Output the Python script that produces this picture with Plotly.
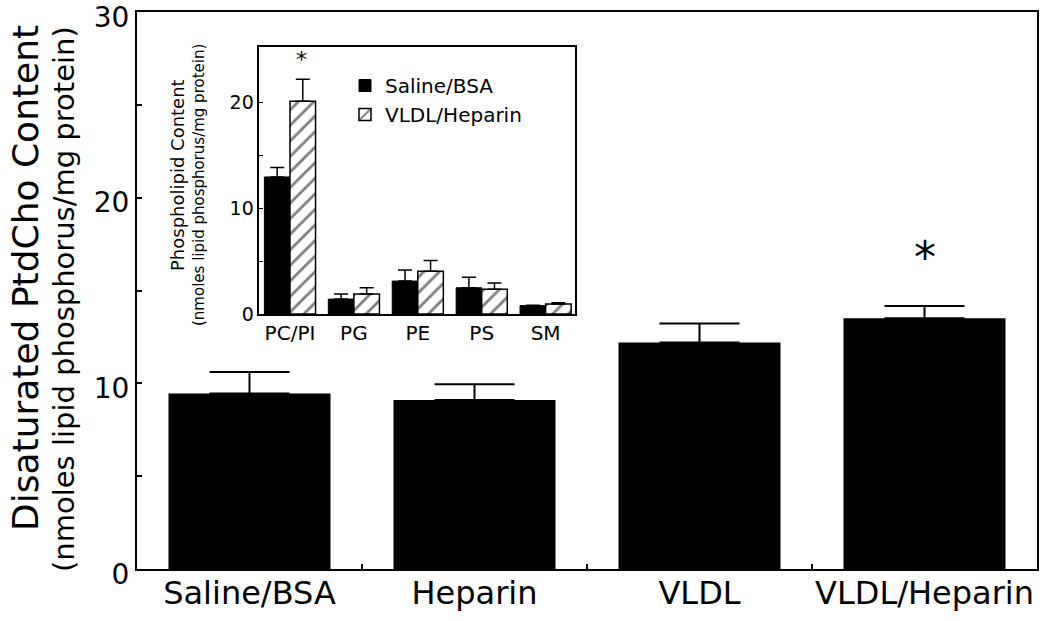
import plotly.graph_objects as go

# ---- main chart data ----
main_categories = ["Saline/BSA", "Heparin", "VLDL", "VLDL/Heparin"]
main_values = [9.45, 9.1, 12.2, 13.5]
main_errors = [1.16, 0.85, 1.02, 0.66]
main_star_category = "VLDL/Heparin"
main_star_value = 16.8

# ---- inset data ----
inset_categories = ["PC/PI", "PG", "PE", "PS", "SM"]
saline_values = [12.95, 1.41, 3.11, 2.48, 0.79]
saline_errors = [0.9, 0.48, 1.04, 1.0, 0.04]
vldl_values = [20.1, 1.9, 4.03, 2.33, 0.94]
vldl_errors = [2.07, 0.58, 1.03, 0.6, 0.13]
inset_star_category = "PC/PI"
inset_star_value = 24.0

main_yticks = [0, 5, 10, 15, 20, 25, 30]
main_yticktext = ["0", "", "10", "", "20", "", "30"]
inset_yticks = [0, 5, 10, 15, 20]
inset_yticktext = ["0", "", "10", "", "20"]

FONT = "DejaVu Sans"
W, H = 1050, 621
L, R, T, B = 137, 13, 12, 52
PW, PH = W - L - R, H - T - B


def px_x(p):
    return (p - L) / PW


def px_y(p):
    return (H - B - p) / PH


fig = go.Figure()

fig.add_trace(go.Bar(
    x=main_categories, y=main_values, width=0.72,
    marker=dict(color="black", line=dict(width=0)),
    error_y=dict(type="data", array=main_errors, arrayminus=[0] * len(main_errors),
                 symmetric=False, color="black", thickness=2, width=40),
    showlegend=False, xaxis="x", yaxis="y",
))

fig.add_trace(go.Bar(
    name="Saline/BSA", x=inset_categories, y=saline_values,
    marker=dict(color="black", line=dict(color="black", width=1)),
    error_y=dict(type="data", array=saline_errors, arrayminus=[0] * len(saline_errors),
                 symmetric=False, color="black", thickness=1.5, width=7),
    xaxis="x2", yaxis="y2",
))
fig.add_trace(go.Bar(
    name="VLDL/Heparin", x=inset_categories, y=vldl_values,
    marker=dict(color="white", line=dict(color="black", width=1.5),
                pattern=dict(shape="/", fgcolor="black", bgcolor="white", size=11, solidity=0.25)),
    error_y=dict(type="data", array=vldl_errors, arrayminus=[0] * len(vldl_errors),
                 symmetric=False, color="black", thickness=1.5, width=7),
    xaxis="x2", yaxis="y2",
))

fig.update_layout(
    width=W, height=H,
    margin=dict(l=L, r=R, t=T, b=B),
    paper_bgcolor="white", plot_bgcolor="white",
    font=dict(family=FONT, color="black"),
    barmode="group", bargap=0.2, bargroupgap=0,
    xaxis=dict(domain=[0, 1], type="category", range=[-0.5, 3.5], automargin=False, tickangle=0,
               showline=True, linecolor="black", linewidth=2, mirror=True, ticklabelstandoff=-5,
               ticks="inside", tickson="boundaries", ticklen=5, tickwidth=1.5, tickcolor="black",
               tickfont=dict(size=32, family=FONT, color="black"), showgrid=False, zeroline=False),
    yaxis=dict(domain=[0, 1], range=[0, 30], tickmode="array", tickvals=main_yticks, automargin=False,
               ticktext=main_yticktext, showline=True, linecolor="black", linewidth=2, mirror=True,
               ticks="inside", ticklen=5, tickwidth=1.5, tickcolor="black", ticklabeloverflow="allow",
               ticklabelshift=5,
               tickfont=dict(size=28, family=FONT, color="black"), showgrid=False, zeroline=False),
    xaxis2=dict(domain=[px_x(259.3), px_x(575)], anchor="y2", type="category", range=[-0.48, 4.46],
                automargin=False, tickangle=0,
                showline=True, linecolor="black", linewidth=1.5, mirror=True, ticks="",
                tickfont=dict(size=20, family=FONT, color="black"), showgrid=False, zeroline=False),
    yaxis2=dict(domain=[px_y(314), px_y(47.3)], anchor="x2", range=[0, 25.2], tickmode="array",
                tickvals=inset_yticks, ticktext=inset_yticktext, automargin=False,
                showline=True, linecolor="black", linewidth=1.5, mirror=True,
                ticks="inside", ticklen=4, tickwidth=1, tickcolor="black",
                tickfont=dict(size=19, family=FONT, color="black"), showgrid=False, zeroline=False),
    legend=dict(x=px_x(345), y=px_y(66), xanchor="left", yanchor="top",
                font=dict(size=20, family=FONT, color="black"), bgcolor="rgba(0,0,0,0)",
                traceorder="normal"),
)

annotations = [
    dict(text="Disaturated PtdCho Content", xref="paper", yref="paper", x=px_x(25), y=px_y(278),
         textangle=-90, showarrow=False, font=dict(size=36, family=FONT, color="black"),
         xanchor="center", yanchor="middle"),
    dict(text="(nmoles lipid phosphorus/mg protein)", xref="paper", yref="paper", x=px_x(64), y=px_y(299),
         textangle=-90, showarrow=False, font=dict(size=29, family=FONT, color="black"),
         xanchor="center", yanchor="middle"),
    dict(text="Phospholipid Content", xref="paper", yref="paper", x=px_x(177), y=px_y(175),
         textangle=-90, showarrow=False, font=dict(size=18, family=FONT, color="black"),
         xanchor="center", yanchor="middle"),
    dict(text="(nmoles lipid phosphorus/mg protein)", xref="paper", yref="paper", x=px_x(199), y=px_y(185),
         textangle=-90, showarrow=False, font=dict(size=15, family=FONT, color="black"),
         xanchor="center", yanchor="middle"),
    dict(text="*", xref="x", yref="y", x=main_star_category, y=main_star_value,
         showarrow=False, font=dict(size=44, family=FONT, color="black"), yanchor="middle"),
    dict(text="*", xref="x2", yref="y2", x=inset_star_category, y=inset_star_value, xshift=12,
         showarrow=False, font=dict(size=22, family=FONT, color="black"), yanchor="middle"),
]
fig.update_layout(annotations=annotations)

fig.write_html("out.html", config={"displayModeBar": False},
               post_script="document.body.style.margin='0';document.body.style.overflow='hidden';")
